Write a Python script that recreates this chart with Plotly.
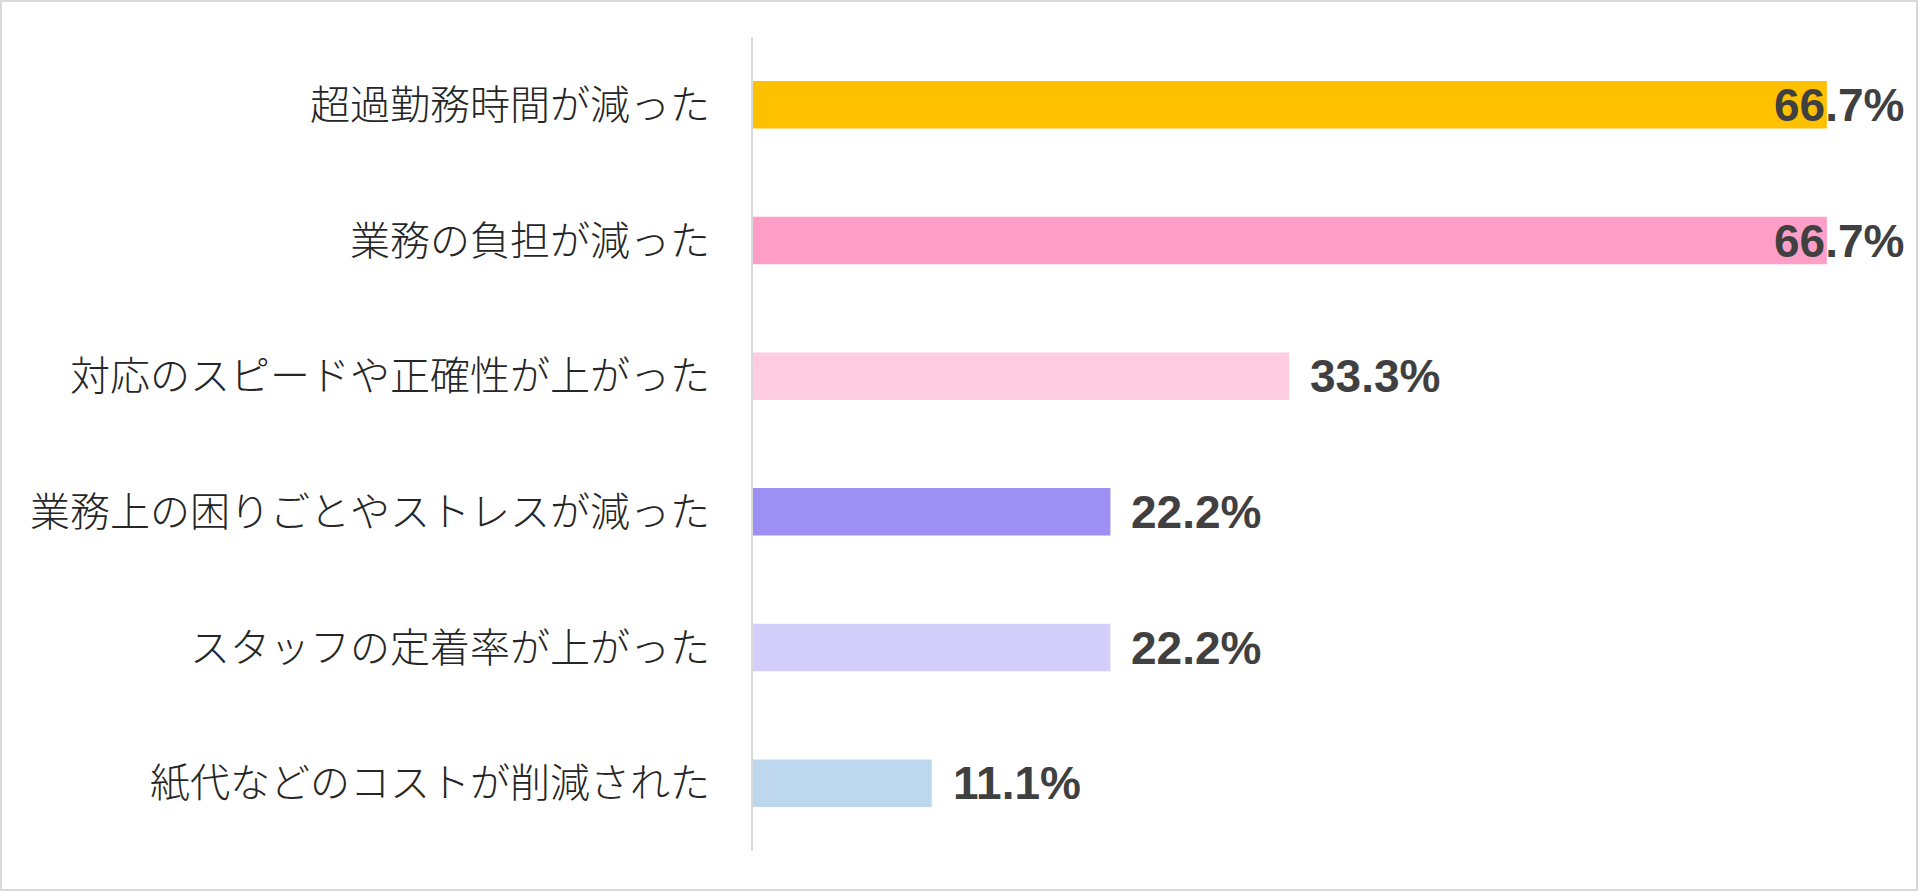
import plotly.graph_objects as go

categories = [
    "超過勤務時間が減った",
    "業務の負担が減った",
    "対応のスピードや正確性が上がった",
    "業務上の困りごとやストレスが減った",
    "スタッフの定着率が上がった",
    "紙代などのコストが削減された",
]
values = [66.7, 66.7, 33.3, 22.2, 22.2, 11.1]
labels = ["66.7%", "66.7%", "33.3%", "22.2%", "22.2%", "11.1%"]
colors = ["#FFC000", "#FF9FC8", "#FFCCE0", "#9D8FF4", "#D3CEFA", "#BDD7EE"]

W, H = 1920, 892
ml, mr, mt, mb = 753, 40, 37, 41
pw, ph = W - ml - mr, H - mt - mb
xmax = 70


def px(x):
    return (x - ml) / pw


def py(y):
    return 1 - (y - mt) / ph


fig = go.Figure()
fig.add_trace(go.Bar(
    y=categories, x=values, orientation="h",
    marker=dict(color=colors, line=dict(width=0)),
    width=0.35, hoverinfo="skip",
))

label_font = dict(family="Liberation Sans, Arial", size=46, color="#404040", weight="bold")
annotations = []
for c, v, t in zip(categories, values, labels):
    end_px = ml + v / xmax * pw
    if end_px + 20 + 135 > W - 10:
        annotations.append(dict(x=v, y=c, xref="x", yref="y", text=t, showarrow=False,
                                xanchor="right", yanchor="middle", xshift=(W - 14) - end_px,
                                font=label_font))
    else:
        annotations.append(dict(x=v, y=c, xref="x", yref="y", text=t, showarrow=False,
                                xanchor="left", yanchor="middle", xshift=19,
                                font=label_font))

fig.update_layout(
    width=W, height=H,
    margin=dict(l=ml, r=mr, t=mt, b=mb, pad=0),
    paper_bgcolor="white", plot_bgcolor="white",
    showlegend=False,
    annotations=annotations,
    xaxis=dict(range=[0, xmax], visible=False, fixedrange=True),
    yaxis=dict(
        categoryorder="array", categoryarray=categories, autorange="reversed",
        showline=True, linecolor="#D9D9D9", linewidth=2,
        showgrid=False, zeroline=False, ticks="",
        ticklabelstandoff=33,
        tickfont=dict(family="Noto Sans CJK JP", size=40, color="#262626", weight=300),
        fixedrange=True,
    ),
    shapes=[dict(type="rect", xref="paper", yref="paper",
                 x0=px(1), x1=px(1917), y0=py(1), y1=py(890),
                 line=dict(color="#D9D9D9", width=2), fillcolor="rgba(0,0,0,0)", layer="below")],
)

fig.write_html("out.html", config={"displayModeBar": False})
